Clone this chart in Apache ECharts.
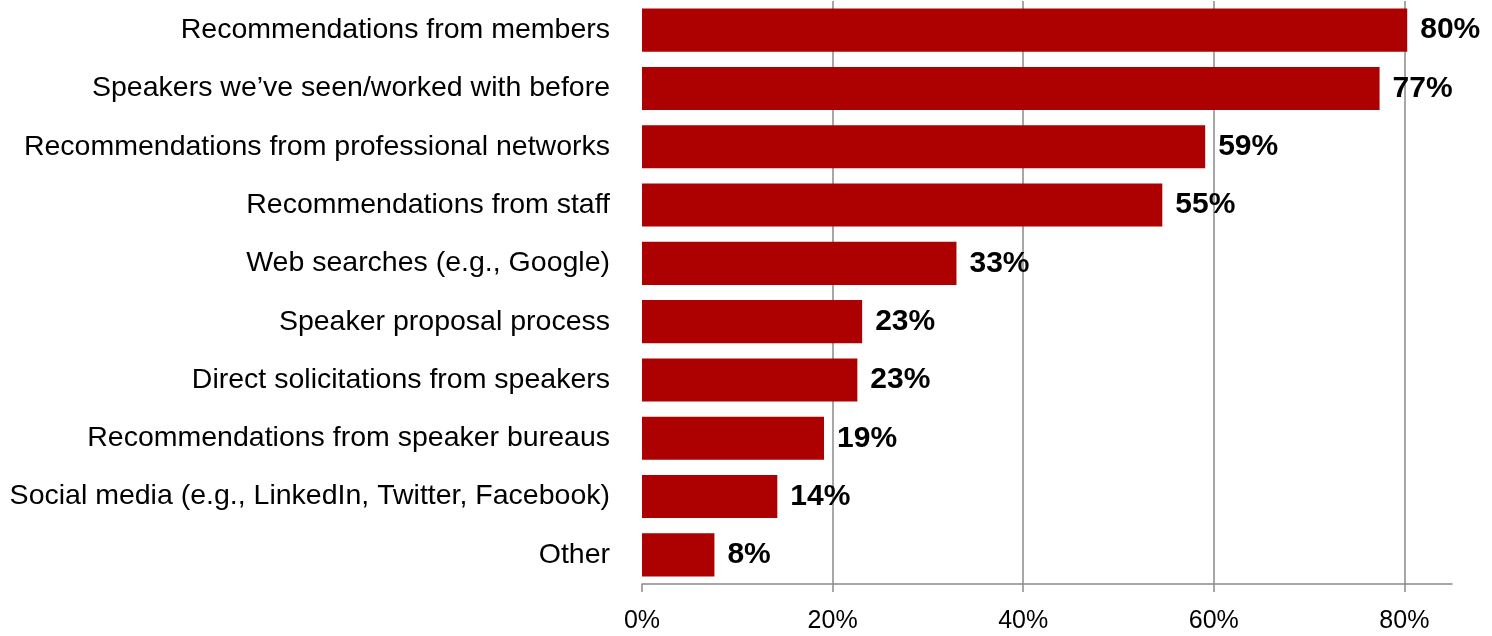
<!DOCTYPE html>
<html>
<head>
<meta charset="utf-8">
<script src="https://cdn.jsdelivr.net/npm/echarts@6/dist/echarts.min.js"></script>
<style>
html,body{margin:0;padding:0;background:#fff;}
#chart{width:1492px;height:636px;}
</style>
</head>
<body>
<div id="chart"></div>
<script>
const categories = [
  "Recommendations from members",
  "Speakers we\u2019ve seen/worked with before",
  "Recommendations from professional networks",
  "Recommendations from staff",
  "Web searches (e.g., Google)",
  "Speaker proposal process",
  "Direct solicitations from speakers",
  "Recommendations from speaker bureaus",
  "Social media (e.g., LinkedIn, Twitter, Facebook)",
  "Other"
];
const values = [80.3, 77.4, 59.1, 54.6, 33.0, 23.1, 22.6, 19.1, 14.2, 7.6];
const xTicks = [0, 20, 40, 60, 80];

const chart = echarts.init(document.getElementById('chart'), null, {renderer: 'canvas'});
const grey = '#8a8a8a';
chart.setOption({
  animation: false,
  backgroundColor: '#fff',
  grid: {left: 642, right: 40, top: 1, bottom: 52, containLabel: false},
  xAxis: {
    type: 'value',
    min: 0, max: 85, interval: 20,
    axisLine: {show: true, lineStyle: {color: grey, width: 1.5}},
    axisTick: {show: true, length: 8, lineStyle: {color: grey, width: 1.5}, customValues: xTicks},
    axisLabel: {
      customValues: xTicks,
      formatter: v => v + '%',
      margin: 25,
      fontFamily: '"Liberation Sans", Arial, sans-serif',
      fontSize: 25, color: '#000'
    },
    splitLine: {show: true, lineStyle: {color: ['transparent', grey, grey, grey, grey, 'transparent'], width: 1.5}}
  },
  yAxis: {
    type: 'category',
    data: categories,
    inverse: true,
    axisLine: {show: false},
    axisTick: {show: false},
    axisLabel: {
      margin: 32,
      fontFamily: '"Liberation Sans", Arial, sans-serif',
      fontSize: 28.5, color: '#000'
    }
  },
  series: [{
    type: 'bar',
    data: values,
    barCategoryGap: '26%',
    itemStyle: {color: '#ad0000'},
    label: {
      show: true,
      position: 'right',
      distance: 13,
      formatter: p => Math.round(p.value) + '%',
      fontFamily: '"Liberation Sans", Arial, sans-serif',
      fontWeight: 'bold',
      fontSize: 30,
      color: '#000'
    }
  }]
});
</script>
</body>
</html>
